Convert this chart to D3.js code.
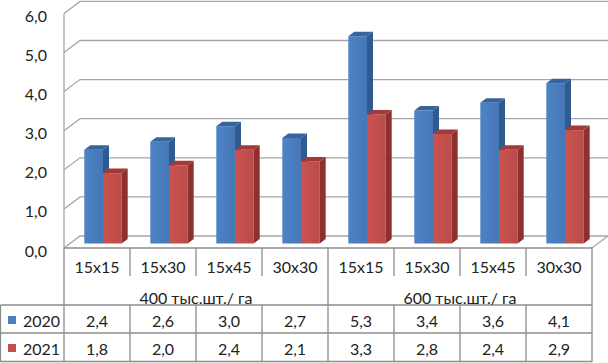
<!DOCTYPE html>
<html>
<head>
<meta charset="utf-8">
<script src="https://cdn.jsdelivr.net/npm/d3@7"></script>
<style>
  html, body { margin: 0; padding: 0; background: #fff; }
  svg { display: block; font-family: Lato, "Liberation Sans", sans-serif; }
</style>
</head>
<body>
<svg id="chart" width="608" height="363"></svg>
<script>
// data
var categories = ["15x15", "15x30", "15x45", "30x30", "15x15", "15x30", "15x45", "30x30"];
var groups = ["400 тыс.шт./ га", "600 тыс.шт./ га"];
var seriesNames = ["2020", "2021"];
var values2020 = [2.4, 2.6, 3.0, 2.7, 5.3, 3.4, 3.6, 4.1];
var values2021 = [1.8, 2.0, 2.4, 2.1, 3.3, 2.8, 2.4, 2.9];
var yTicks = [0, 1, 2, 3, 4, 5, 6];

var colors = {
    "2020": { face: "#4a7ebf", dark: "#2f5b91", side: "#35659f" },
    "2021": { face: "#c4504d", dark: "#8e302d", side: "#a33a37" }
};

var svg = d3.select("#chart");
var fmt = function (v) { return d3.format(".1f")(v).replace(".", ","); };

// geometry
var left = 64, right = 592, floorY = 248;
var wallDx = 16, wallDy = -12;   // depth of the back wall
var barDx = 6, barDy = -4.5;     // depth of one bar
var barOff = { x: 6, y: -4.5 };  // bars sit a little behind the front edge

var x = d3.scaleBand().domain(d3.range(categories.length)).range([left, right]).paddingInner(0).paddingOuter(0);
var xs = d3.scaleBand().domain(seriesNames).range([0, x.bandwidth()]).paddingOuter(0.765).paddingInner(0);
var y = d3.scaleLinear().domain([0, 6]).range([floorY, floorY - 6 * 39.1]);

var gridColor = "#a6a6a6";
var grid = svg.append("g");

// side wall + back wall grid lines
yTicks.forEach(function (t) {
    var yf = y(t);
    grid.append("path")
        .attr("d", "M" + left + "," + yf + "L" + (left + wallDx) + "," + (yf + wallDy) + "L" + (right + wallDx) + "," + (yf + wallDy))
        .attr("fill", "none").attr("stroke", gridColor).attr("stroke-width", 1.3);
});
// left front edge of wall
grid.append("line").attr("x1", left).attr("x2", left).attr("y1", y(6)).attr("y2", floorY)
    .attr("stroke", gridColor).attr("stroke-width", 1.3);
// floor right edge
grid.append("line").attr("x1", right).attr("y1", floorY).attr("x2", right + wallDx).attr("y2", floorY + wallDy)
    .attr("stroke", gridColor).attr("stroke-width", 1.3);

// y labels
svg.append("g").selectAll("text").data(yTicks).enter().append("text")
    .attr("x", 47).attr("y", function (d) { return y(d) + 2; })
    .attr("text-anchor", "end").attr("dominant-baseline", "central")
    .attr("font-size", 16).attr("fill", "#222")
    .text(fmt);

var defs = svg.append("defs");
seriesNames.forEach(function (s) {
    var lg = defs.append("linearGradient").attr("id", "grad" + s).attr("x1", 0).attr("x2", 1).attr("y1", 0).attr("y2", 0);
    lg.append("stop").attr("offset", "0%").attr("stop-color", d3.color(colors[s].face).brighter(0.1));
    lg.append("stop").attr("offset", "100%").attr("stop-color", d3.color(colors[s].face).darker(0.15));
});

// bars
var bars = [];
categories.forEach(function (c, i) {
    bars.push({ i: i, s: "2020", v: values2020[i] });
    bars.push({ i: i, s: "2021", v: values2021[i] });
});

var gBars = svg.append("g");
bars.forEach(function (b) {
    var x0 = x(b.i) + xs(b.s) + barOff.x;
    var x1 = x0 + xs.bandwidth();
    var yb = y(0) + barOff.y;
    var yt = y(b.v) + barOff.y;
    var col = colors[b.s];
    var g = gBars.append("g");
    // front
    g.append("rect").attr("x", x0).attr("y", yt).attr("width", x1 - x0).attr("height", yb - yt)
        .attr("fill", "url(#grad" + b.s + ")");
    // side
    g.append("path")
        .attr("d", "M" + x1 + "," + yt + "L" + (x1 + barDx) + "," + (yt + barDy) + "L" + (x1 + barDx) + "," + (yb + barDy) + "L" + x1 + "," + yb + "Z")
        .attr("fill", col.dark);
    // top
    g.append("path")
        .attr("d", "M" + x0 + "," + yt + "L" + (x0 + barDx) + "," + (yt + barDy) + "L" + (x1 + barDx) + "," + (yt + barDy) + "L" + x1 + "," + yt + "Z")
        .attr("fill", col.side);
});

// data table
var tbl = svg.append("g");
var lineColor = "#8c8c8c";
var rowY = [floorY, 305, 333, 362];
var tline = function (x1, y1, x2, y2) {
    tbl.append("line").attr("x1", x1).attr("y1", y1).attr("x2", x2).attr("y2", y2)
        .attr("stroke", lineColor).attr("stroke-width", 1.3);
};
tline(left, floorY, right, floorY);
tline(0.5, rowY[1], right, rowY[1]);
tline(0.5, rowY[2], right, rowY[2]);
tline(0.5, rowY[3] - 0.5, right, rowY[3] - 0.5);
tline(0.5, rowY[1], 0.5, rowY[3]);
tline(left, floorY, left, rowY[3]);
tline(right, floorY, right, rowY[3]);
tline(x(4), floorY, x(4), rowY[1]);
categories.forEach(function (c, i) {
    if (i > 0 && i !== 4) tline(x(i), floorY, x(i), 276);
    if (i > 0) tline(x(i), rowY[1], x(i), rowY[3]);
});

var txt = function (xp, yp, s, anchor) {
    tbl.append("text").attr("x", xp).attr("y", yp).attr("text-anchor", anchor || "middle")
        .attr("dominant-baseline", "central").attr("font-size", 16).attr("fill", "#222").text(s);
};
categories.forEach(function (c, i) {
    txt(x(i) + x.bandwidth() / 2, 266, c);
    txt(x(i) + x.bandwidth() / 2, 320, fmt(values2020[i]));
    txt(x(i) + x.bandwidth() / 2, 348, fmt(values2021[i]));
});
groups.forEach(function (gname, k) {
    txt((x(k * 4) + x(k * 4 + 3) + x.bandwidth()) / 2, 297, gname);
});
seriesNames.forEach(function (s, k) {
    var cy = k === 0 ? 320 : 348;
    tbl.append("rect").attr("x", 8).attr("y", cy - 4).attr("width", 8).attr("height", 8).attr("fill", colors[s].face);
    txt(23, cy, s, "start");
});
</script>
</body>
</html>
